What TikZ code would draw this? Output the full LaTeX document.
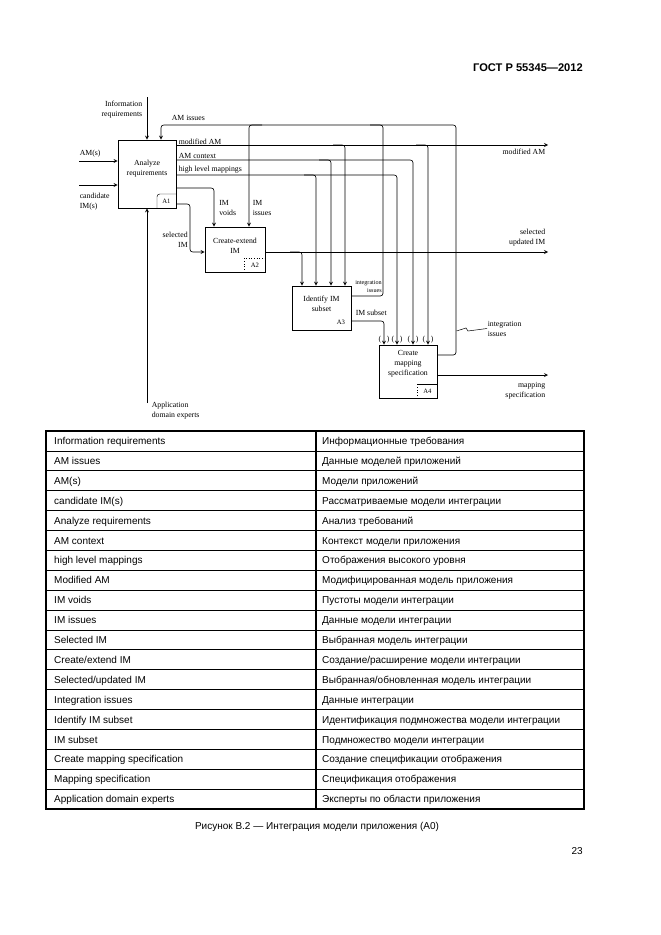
\documentclass[tikz,border=0pt]{standalone}
\usepackage{fontspec}
\setmainfont{Liberation Serif}
\newfontfamily\arialfont{Liberation Sans}
\usetikzlibrary{positioning,calc}

\begin{document}
\begin{tikzpicture}[x=0.9pt,y=-0.9pt,
		box/.style={draw=black,line width=0.7pt,inner sep=0pt},
		lbl/.style={font=\fontsize{7}{9}\selectfont,inner sep=0.5pt,align=center},
		tinylbl/.style={font=\fontsize{5.5}{7}\selectfont,inner sep=0.5pt,align=right},
		tag/.style={font=\fontsize{6}{7}\selectfont,inner sep=0pt},
		flow/.style={line width=0.6pt,rounded corners=2.5pt},
		arr/.style={flow,-stealth},
		cell/.style={font=\arialfont\fontsize{9}{11}\selectfont,anchor=base west,inner sep=0pt}]
		\useasboundingbox (0,0) rectangle (661,935);
		
		\node[font=\arialfont\bfseries\fontsize{10}{12}\selectfont,anchor=east,inner sep=0pt] (gost) at (583,68) {ГОСТ Р 55345—2012};
		
		\node[box,minimum width=52.2pt,minimum height=61.2pt] (analyze) at (147,174) {};
		\node[box,minimum width=54pt,minimum height=40.5pt] (create) at (235,249.5) {};
		\node[box,minimum width=53.1pt,minimum height=39.6pt] (identify) at (321.5,308) {};
		\node[box,minimum width=52.2pt,minimum height=47.7pt] (mapspec) at (408,371.5) {};
		\node[lbl] (analyzet) at (147,169) {Analyze\\requirements};
		\node[lbl] (createt) at (235,245.5) {Create-extend\\IM};
		\node[lbl] (identifyt) at (321.5,304) {Identify IM\\subset};
		\node[lbl] (mapspect) at (408,364) {Create\\mapping\\specification};
		
		\draw[flow,line width=0.4pt] (157,208) -- (157,194) -- (176,194);
		\node[tag] (atag1) at (166.5,201) {A1};
		\draw[dotted,line width=0.4pt] (244,272) -- (244,258) -- (265,258);
		\node[tag] (atag2) at (255,265) {A2};
		\node[tag] (atag3) at (341,322) {A3};
		\draw[dotted,line width=0.4pt] (417,398) -- (417,384);
		\draw[line width=0.4pt] (417,384) -- (437,384);
		\node[tag] (atag4) at (427.5,391) {A4};
		
		\coordinate (inreq) at (147,97);
		\draw[arr] (inreq) -- (analyze.north);
		\node[lbl,align=right,anchor=east] (inreql) at (143,109.5) {Information\\requirements};
		\coordinate (ams) at (79,161);
		\draw[arr] (ams) -- (ams -| analyze.west);
		\node[lbl,anchor=south west] (amsl) at (79,157.5) {AM(s)};
		\coordinate (cand) at (79,185);
		\draw[arr] (cand) -- (cand -| analyze.west);
		\node[lbl,align=left,anchor=north west] (candl) at (79,192) {candidate\\IM(s)};
		\coordinate (experts) at (147,403);
		\draw[arr] (experts) -- (analyze.south);
		\node[lbl,align=left,anchor=north west] (expertsl) at (151,401.5) {Application\\domain experts};
		
		\coordinate (modout) at (548,145);
		\draw[arr] (analyze.east |- modout) -- (modout);
		\node[lbl,anchor=south west] (modl) at (178,145.5) {modified AM};
		\node[lbl,anchor=north east] (modr) at (546,148) {modified AM};
		\coordinate (ctxend) at (413,160);
		\draw[arr] (analyze.east |- ctxend) -- (ctxend) -- (ctxend |- mapspec.north);
		\node[lbl,anchor=south west] (ctxl) at (178,159) {AM context};
		\coordinate (hlmend) at (397,175);
		\draw[arr] (analyze.east |- hlmend) -- (hlmend) -- (hlmend |- mapspec.north);
		\node[lbl,anchor=south west] (hlml) at (178,174) {high level mappings};
		\foreach \xa/\ya in {302/252,316/175,331/160,345/145}
			\draw[arr] (\xa-12,\ya) -- (\xa,\ya) -- (\xa,0 |- identify.north);
		\draw[arr] (416,145) -- (428,145) -- (428,0 |- mapspec.north);
		
		\coordinate (voidsx) at (214,188);
		\draw[arr] (analyze.east |- voidsx) -- (voidsx) -- (voidsx |- create.north);
		\node[lbl,align=left,anchor=north west] (voidsl) at (218.5,200) {IM\\voids};
		
		\coordinate (issx) at (456,125);
		\draw[arr] (mapspec.east |- 0,355) -- (issx |- 0,355) -- (issx) -- (161,125) -- (161,0 |- analyze.north);
		\draw[flow] (identify.east |- 0,296) -- (383,296) -- (383,125) -- (370,125);
		\draw[arr] (262,125) -- (249,125) -- (249,0 |- create.north);
		\node[lbl,anchor=west] (amissl) at (171,118) {AM issues};
		\node[lbl,align=left,anchor=north west] (imissl) at (252,200) {IM\\issues};
		\node[tinylbl,anchor=south east] (intiss3) at (382.5,293.5) {integration\\issues};
		
		\coordinate (selx) at (190,204);
		\draw[arr] (analyze.east |- selx) -- (selx) -- (190,252) -- (create.west |- 0,252);
		\node[lbl,align=right,anchor=east] (selimL) at (188.5,240) {selected\\IM};
		
		\coordinate (updout) at (548,252);
		\draw[arr] (create.east |- updout) -- (updout);
		\node[lbl,align=right,anchor=south east] (updl) at (546,247) {selected\\updated IM};
		
		\coordinate (subx) at (384,321);
		\draw[arr] (identify.east |- subx) -- (subx) -- (subx |- mapspec.north);
		\node[lbl,anchor=west] (subl) at (355,313) {IM subset};
		
		\coordinate (mapout) at (548,375);
		\draw[arr] (mapspec.east |- mapout) -- (mapout);
		\node[lbl,align=right,anchor=north east] (mapl) at (546,382) {mapping\\specification};
		
		\node[lbl,align=left,anchor=west] (intiss4) at (487,328.5) {integration\\issues};
		\draw[line width=0.45pt] (intiss4.west) -- (468,331) -- (466,328) -- (456.5,331);
		
		\foreach \px [count=\k] in {384,397,413,428} {
			\node[lbl,inner sep=0pt] (pl\k) at (\px-4.2,340) {(};
			\node[lbl,inner sep=0pt] (pr\k) at (\px+4.2,340) {)};
		}
		
		\draw[line width=1.3pt] (46,431) rectangle (584,809);
		\draw[line width=1.3pt] (316,431) -- (316,809);
		\foreach \r in {1,...,18}
			\draw[line width=0.7pt] (46,431+\r*19.895) -- (584,431+\r*19.895);
		\foreach \en/\ru [count=\i from 0] in {Information requirements/Информационные требования, AM issues/Данные моделей приложений, AM(s)/Модели приложений, candidate IM(s)/Рассматриваемые модели интеграции, Analyze requirements/Анализ требований, AM context/Контекст модели приложения, high level mappings/Отображения высокого уровня, Modified AM/Модифицированная модель приложения, IM voids/Пустоты модели интеграции, IM issues/Данные модели интеграции, Selected IM/Выбранная модель интеграции, {Create/extend IM}/{Создание/расширение модели интеграции}, {Selected/updated IM}/{Выбранная/обновленная модель интеграции}, Integration issues/Данные интеграции, Identify IM subset/Идентификация подмножества модели интеграции, IM subset/Подмножество модели интеграции, Create mapping specification/Создание спецификации отображения, Mapping specification/Спецификация отображения, Application domain experts/Эксперты по области приложения} {
			\node[cell] (en\i) at (54,444.6+\i*19.895) {\en};
			\node[cell] (ru\i) at (322,444.6+\i*19.895) {\ru};
		}
		
		\node[font=\arialfont\fontsize{9}{11}\selectfont,inner sep=0pt] (caption) at (317,827) {Рисунок В.2 — Интеграция модели приложения (A0)};
		\node[font=\arialfont\fontsize{9}{11}\selectfont,anchor=east,inner sep=0pt] (pagenum) at (583,851) {23};
	\end{tikzpicture}
\end{document}
